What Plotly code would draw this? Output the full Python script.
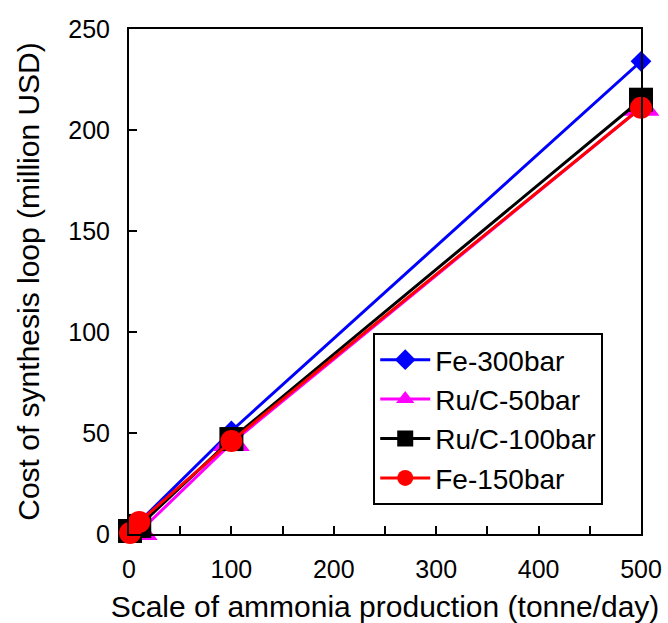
import plotly.graph_objects as go

scale = [1, 10, 100, 500]
fe300 = [1.0, 6.0, 51.0, 234.0]
ru50 = [-4.0, 1.0, 45.0, 211.0]
ru100 = [1.5, 4.0, 47.0, 215.0]
fe150 = [0.5, 6.0, 46.0, 211.0]

series = [
    ("Fe-300bar", fe300, "#0000FF", "diamond", 16),
    ("Ru/C-50bar", ru50, "#FF00FF", "triangle-up", 32),
    ("Ru/C-100bar", ru100, "#000000", "square", 24),
    ("Fe-150bar", fe150, "#FF0000", "circle", 22),
]

fig = go.Figure()
for name, vals, col, sym, sz in series:
    fig.add_trace(go.Scatter(
        x=scale, y=vals, name=name, mode="lines+markers",
        line=dict(color=col, width=3),
        marker=dict(symbol=sym, size=sz, color=col, line=dict(width=0)),
        cliponaxis=False,
    ))

xticks = list(range(0, 501, 50))
xtext = [str(v) if v % 100 == 0 else "" for v in xticks]
yticks = list(range(0, 251, 50))

font = "Liberation Sans, Arial, sans-serif"
fig.update_layout(
    width=668, height=623,
    margin=dict(l=129, r=27, t=29, b=89),
    paper_bgcolor="white", plot_bgcolor="white",
    font=dict(family=font, size=24, color="black"),
    showlegend=True,
    legend=dict(
        x=0.477, y=0.398, xanchor="left", yanchor="top",
        bordercolor="black", borderwidth=2, bgcolor="white",
        font=dict(size=28), itemwidth=50, tracegroupgap=0,
    ),
    xaxis=dict(
        range=[0, 500], tickvals=xticks, ticktext=xtext,
        ticks="inside", ticklen=8, tickwidth=2, tickcolor="black",
        showline=True, linecolor="black", linewidth=2, mirror=True,
        showgrid=False, zeroline=False, automargin=False,
        ticklabelstandoff=12,
        tickfont=dict(size=25),
        title=dict(text="Scale of ammonia production (tonne/day)", standoff=22,
                   font=dict(size=30)),
    ),
    yaxis=dict(
        range=[0, 250], tickvals=yticks,
        ticks="inside", ticklen=8, tickwidth=2, tickcolor="black",
        showline=True, linecolor="black", linewidth=2, mirror=True,
        showgrid=False, zeroline=False, automargin=False,
        ticklabelstandoff=12,
        tickfont=dict(size=25),
        title=dict(text="Cost of synthesis loop (million USD)", standoff=20,
                   font=dict(size=30)),
    ),
)

fig.write_html("out.html")
